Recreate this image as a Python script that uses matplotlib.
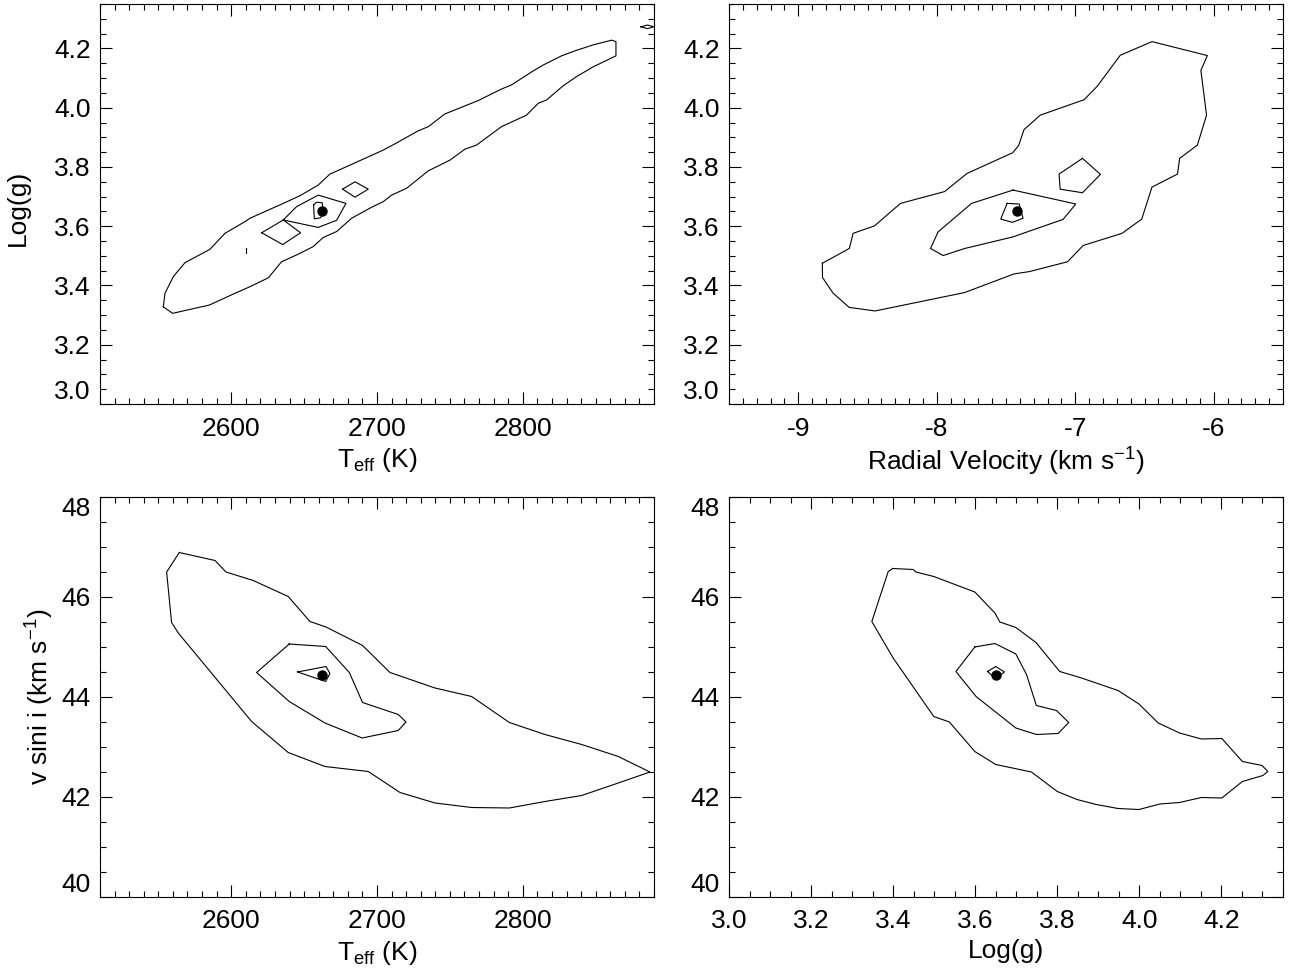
"""Four-panel chi-square contour figure: Teff, log g, RV and v sin i."""

import matplotlib.pyplot as plt
from matplotlib.ticker import FormatStrFormatter, MultipleLocator


# best-fit point
BEST_TEFF = 2662
BEST_LOGG = 3.65
BEST_RV = -7.42
BEST_VSINI = 44.43

# --- Teff vs log g -------------------------------------------------------
TEFF_LOGG_OUTER = [
    (2553.4, 3.328), (2554.6, 3.374), (2560.3, 3.430), (2568.3, 3.477),
    (2585.4, 3.522), (2595.7, 3.576), (2610.6, 3.619), (2612.9, 3.627),
    (2635.7, 3.677), (2647.2, 3.703), (2659.7, 3.739), (2667.7, 3.776),
    (2679.1, 3.801), (2704.3, 3.857), (2712.3, 3.878), (2728.3, 3.922),
    (2735.2, 3.936), (2746.6, 3.979), (2769.4, 4.024), (2785.4, 4.063),
    (2792.3, 4.077), (2807.1, 4.124), (2814.0, 4.144), (2826.6, 4.175),
    (2835.8, 4.192), (2848.3, 4.212), (2861.0, 4.228), (2863.9, 4.223),
    (2863.9, 4.175), (2848.3, 4.138), (2836.9, 4.105), (2827.7, 4.074),
    (2816.3, 4.026), (2810.6, 4.015), (2802.6, 3.975), (2785.4, 3.936),
    (2768.3, 3.874), (2760.3, 3.860), (2750.0, 3.823), (2735.2, 3.787),
    (2720.3, 3.728), (2710.0, 3.705), (2704.3, 3.683), (2696.3, 3.664),
    (2682.6, 3.627), (2672.3, 3.582), (2663.1, 3.562), (2656.2, 3.531),
    (2644.8, 3.503), (2634.5, 3.480), (2625.5, 3.426), (2612.9, 3.396),
    (2601.4, 3.371), (2585.0, 3.334), (2559.8, 3.306),
]
TEFF_LOGG_MID = [
    (2635.7, 3.621), (2644.8, 3.666), (2659.7, 3.705),
    (2678.7, 3.677), (2672.3, 3.620), (2659.7, 3.596),
]
TEFF_LOGG_INNER = [
    (2656.5, 3.672), (2658.5, 3.681), (2662.5, 3.679),
    (2663.0, 3.640), (2661.0, 3.628), (2657.0, 3.625),
]
TEFF_LOGG_ISLAND_A = [(2620.9, 3.578), (2635.7, 3.621), (2647.6, 3.578), (2635.3, 3.538)]
TEFF_LOGG_ISLAND_B = [(2676.4, 3.725), (2684.9, 3.750), (2694.0, 3.725), (2684.9, 3.698)]
TEFF_LOGG_ISLAND_C = [(2881.0, 4.273), (2885.5, 4.279), (2890.0, 4.273), (2885.5, 4.267)]
TEFF_LOGG_SPECK = [(2610.0, 3.509), (2610.0, 3.528)]

# --- RV vs log g ---------------------------------------------------------
RV_LOGG_OUTER = [
    (-8.826, 3.475), (-8.631, 3.525), (-8.604, 3.576), (-8.450, 3.601),
    (-8.262, 3.677), (-7.943, 3.717), (-7.782, 3.778), (-7.452, 3.848),
    (-7.409, 3.872), (-7.370, 3.926), (-7.252, 3.975), (-6.936, 4.027),
    (-6.842, 4.072), (-6.675, 4.177), (-6.446, 4.223), (-6.046, 4.176),
    (-6.093, 4.126), (-6.052, 3.975), (-6.118, 3.874), (-6.246, 3.829),
    (-6.262, 3.776), (-6.446, 3.732), (-6.520, 3.624), (-6.662, 3.576),
    (-6.943, 3.535), (-7.056, 3.480), (-7.330, 3.447), (-7.442, 3.439),
    (-7.800, 3.376), (-8.445, 3.314), (-8.632, 3.326), (-8.750, 3.375),
    (-8.825, 3.427),
]
RV_LOGG_MID = [
    (-7.449, 3.722), (-6.996, 3.675), (-7.088, 3.623), (-7.328, 3.584),
    (-7.449, 3.564), (-7.797, 3.525), (-7.954, 3.501), (-8.045, 3.525),
    (-7.990, 3.581), (-7.749, 3.677),
]
RV_LOGG_ISLAND = [(-6.948, 3.829), (-6.818, 3.775), (-6.948, 3.713), (-7.109, 3.725), (-7.117, 3.776)]
RV_LOGG_INNER = [(-7.492, 3.677), (-7.405, 3.675), (-7.377, 3.627), (-7.453, 3.613), (-7.538, 3.624)]

# --- Teff vs v sin i -----------------------------------------------------
TEFF_VSINI_OUTER = [
    (2564.4, 46.89), (2588.9, 46.73), (2596.4, 46.50), (2615.1, 46.33),
    (2639.1, 46.01), (2654.0, 45.51), (2665.0, 45.40), (2690.1, 45.03),
    (2708.9, 44.49), (2739.8, 44.18), (2764.9, 44.01), (2790.8, 43.49),
    (2815.2, 43.25), (2840.4, 43.05), (2865.5, 42.81), (2887.2, 42.50),
    (2865.5, 42.28), (2840.4, 42.03), (2815.2, 41.91), (2790.8, 41.78),
    (2764.9, 41.79), (2739.8, 41.88), (2715.8, 42.09), (2694.0, 42.51),
    (2664.3, 42.61), (2639.1, 42.89), (2614.0, 43.51), (2563.7, 45.28),
    (2559.1, 45.49), (2555.7, 46.50),
]
TEFF_VSINI_MID = [
    (2639.8, 45.06), (2664.8, 45.01), (2681.0, 44.49), (2690.1, 43.89),
    (2714.6, 43.65), (2719.9, 43.50), (2714.6, 43.33), (2689.8, 43.18),
    (2664.3, 43.48), (2639.8, 43.91), (2617.4, 44.49),
]
TEFF_VSINI_INNER = [(2645.5, 44.50), (2665.0, 44.61), (2667.7, 44.47), (2664.8, 44.31)]

# --- log g vs v sin i ----------------------------------------------------
LOGG_VSINI_OUTER = [
    (3.399, 46.57), (3.449, 46.55), (3.455, 46.50), (3.499, 46.41),
    (3.599, 46.10), (3.648, 45.68), (3.660, 45.50), (3.699, 45.39),
    (3.748, 45.09), (3.806, 44.51), (3.859, 44.38), (3.948, 44.13),
    (3.999, 43.86), (4.046, 43.48), (4.098, 43.28), (4.151, 43.16),
    (4.201, 43.17), (4.251, 42.71), (4.299, 42.63), (4.313, 42.51),
    (4.301, 42.43), (4.251, 42.31), (4.201, 41.98), (4.151, 41.99),
    (4.098, 41.89), (4.050, 41.86), (3.999, 41.75), (3.948, 41.77),
    (3.895, 41.85), (3.848, 41.95), (3.800, 42.11), (3.737, 42.50),
    (3.650, 42.65), (3.599, 42.91), (3.537, 43.50), (3.499, 43.61),
    (3.400, 44.78), (3.348, 45.51), (3.388, 46.51),
]
LOGG_VSINI_MID = [
    (3.599, 45.00), (3.648, 45.07), (3.699, 44.86), (3.725, 44.45),
    (3.749, 43.83), (3.798, 43.73), (3.828, 43.49), (3.802, 43.27),
    (3.749, 43.25), (3.699, 43.38), (3.602, 44.01), (3.553, 44.51),
]
LOGG_VSINI_INNER = [(3.630, 44.51), (3.650, 44.61), (3.671, 44.50), (3.650, 44.37)]


plt.rcParams.update(
    {
        "font.family": ["Liberation Sans", "DejaVu Sans"],
        "mathtext.fontset": "custom",
        "mathtext.rm": "Liberation Sans",
        "mathtext.it": "Liberation Sans",
        "mathtext.default": "rm",
        "axes.unicode_minus": False,
        "font.size": 19,
        "axes.linewidth": 0.8,
        "lines.linewidth": 0.8,
    }
)

W, H = 1289, 977


def closed(points):
    xs = [p[0] for p in points] + [points[0][0]]
    ys = [p[1] for p in points] + [points[0][1]]
    return xs, ys


def panel(fig, box, polys, best, xlim, ylim, xstep, ystep, xfmt, yfmt):
    x0, y0, x1, y1 = box
    ax = fig.add_axes([x0 / W, 1 - y1 / H, (x1 - x0) / W, (y1 - y0) / H])
    for poly in polys:
        ax.plot(*closed(poly), color="black", lw=0.8)
    ax.plot([best[0]], [best[1]], "o", color="black", ms=6.5)
    ax.set_xlim(*xlim)
    ax.set_ylim(*ylim)
    ax.xaxis.set_major_locator(MultipleLocator(xstep[0]))
    ax.xaxis.set_minor_locator(MultipleLocator(xstep[1]))
    ax.yaxis.set_major_locator(MultipleLocator(ystep[0]))
    ax.yaxis.set_minor_locator(MultipleLocator(ystep[1]))
    ax.xaxis.set_major_formatter(FormatStrFormatter(xfmt))
    ax.yaxis.set_major_formatter(FormatStrFormatter(yfmt))
    ax.tick_params(which="both", direction="in", top=True, right=True, width=0.8)
    ax.tick_params(which="major", length=8.5)
    ax.tick_params(which="minor", length=4.2)
    ax.tick_params(axis="x", pad=9)
    ax.tick_params(axis="y", pad=6.5)
    return ax


def nudge_end_labels(ax):
    # end labels on the y axis sit inside the frame, as in the original
    fig = ax.figure
    fig.canvas.draw()
    lo, hi = ax.get_ylim()
    for tick in ax.yaxis.get_major_ticks():
        v = tick.get_loc()
        if abs(v - lo) < 1e-6:
            tick.label1.set_va("bottom")
        elif abs(v - hi) < 1e-6:
            tick.label1.set_va("top")


fig = plt.figure(figsize=(W / 100, H / 100), dpi=100)

TOP = (4, 404)
BOT = (497, 897)
LEFT = (100, 654)
RIGHT = (729, 1283)

ax1 = panel(
    fig, (LEFT[0], TOP[0], LEFT[1], TOP[1]),
    [TEFF_LOGG_OUTER, TEFF_LOGG_MID, TEFF_LOGG_INNER,
     TEFF_LOGG_ISLAND_A, TEFF_LOGG_ISLAND_B, TEFF_LOGG_ISLAND_C],
    (BEST_TEFF, BEST_LOGG), (2510, 2890), (3.0, 4.35),
    (100, 10), (0.2, 0.05), "%d", "%.1f",
)
ax1.plot([p[0] for p in TEFF_LOGG_SPECK], [p[1] for p in TEFF_LOGG_SPECK], color="black", lw=0.8)
ax1.set_xlabel(r"T$_{\rm eff}$ (K)")
ax1.set_ylabel("Log(g)")

ax2 = panel(
    fig, (RIGHT[0], TOP[0], RIGHT[1], TOP[1]),
    [RV_LOGG_OUTER, RV_LOGG_MID, RV_LOGG_ISLAND, RV_LOGG_INNER],
    (BEST_RV, BEST_LOGG), (-9.5, -5.5), (3.0, 4.35),
    (1, 0.1), (0.2, 0.05), "%d", "%.1f",
)
ax2.set_xlabel(r"Radial Velocity (km s$^{-1}$)")

ax3 = panel(
    fig, (LEFT[0], BOT[0], LEFT[1], BOT[1]),
    [TEFF_VSINI_OUTER, TEFF_VSINI_MID, TEFF_VSINI_INNER],
    (BEST_TEFF, BEST_VSINI), (2510, 2890), (40, 48),
    (100, 10), (2, 0.5), "%d", "%d",
)
ax3.set_xlabel(r"T$_{\rm eff}$ (K)")
ax3.set_ylabel(r"v sini i (km s$^{-1}$)")

ax4 = panel(
    fig, (RIGHT[0], BOT[0], RIGHT[1], BOT[1]),
    [LOGG_VSINI_OUTER, LOGG_VSINI_MID, LOGG_VSINI_INNER],
    (BEST_LOGG, BEST_VSINI), (3.0, 4.35), (40, 48),
    (0.2, 0.05), (2, 0.5), "%.1f", "%d",
)
ax4.set_xlabel("Log(g)")

for ax in (ax1, ax2, ax3, ax4):
    ax.xaxis.set_label_coords(0.5, -0.105)
    ax.xaxis.label.set_va("top")
ax1.yaxis.set_label_coords(-0.148, 0.49)
ax3.yaxis.set_label_coords(-0.108, 0.5)
for ax in (ax1, ax3):
    ax.yaxis.label.set_va("center")

for ax in (ax1, ax2, ax3, ax4):
    nudge_end_labels(ax)

fig.savefig("out.png", dpi=100)
